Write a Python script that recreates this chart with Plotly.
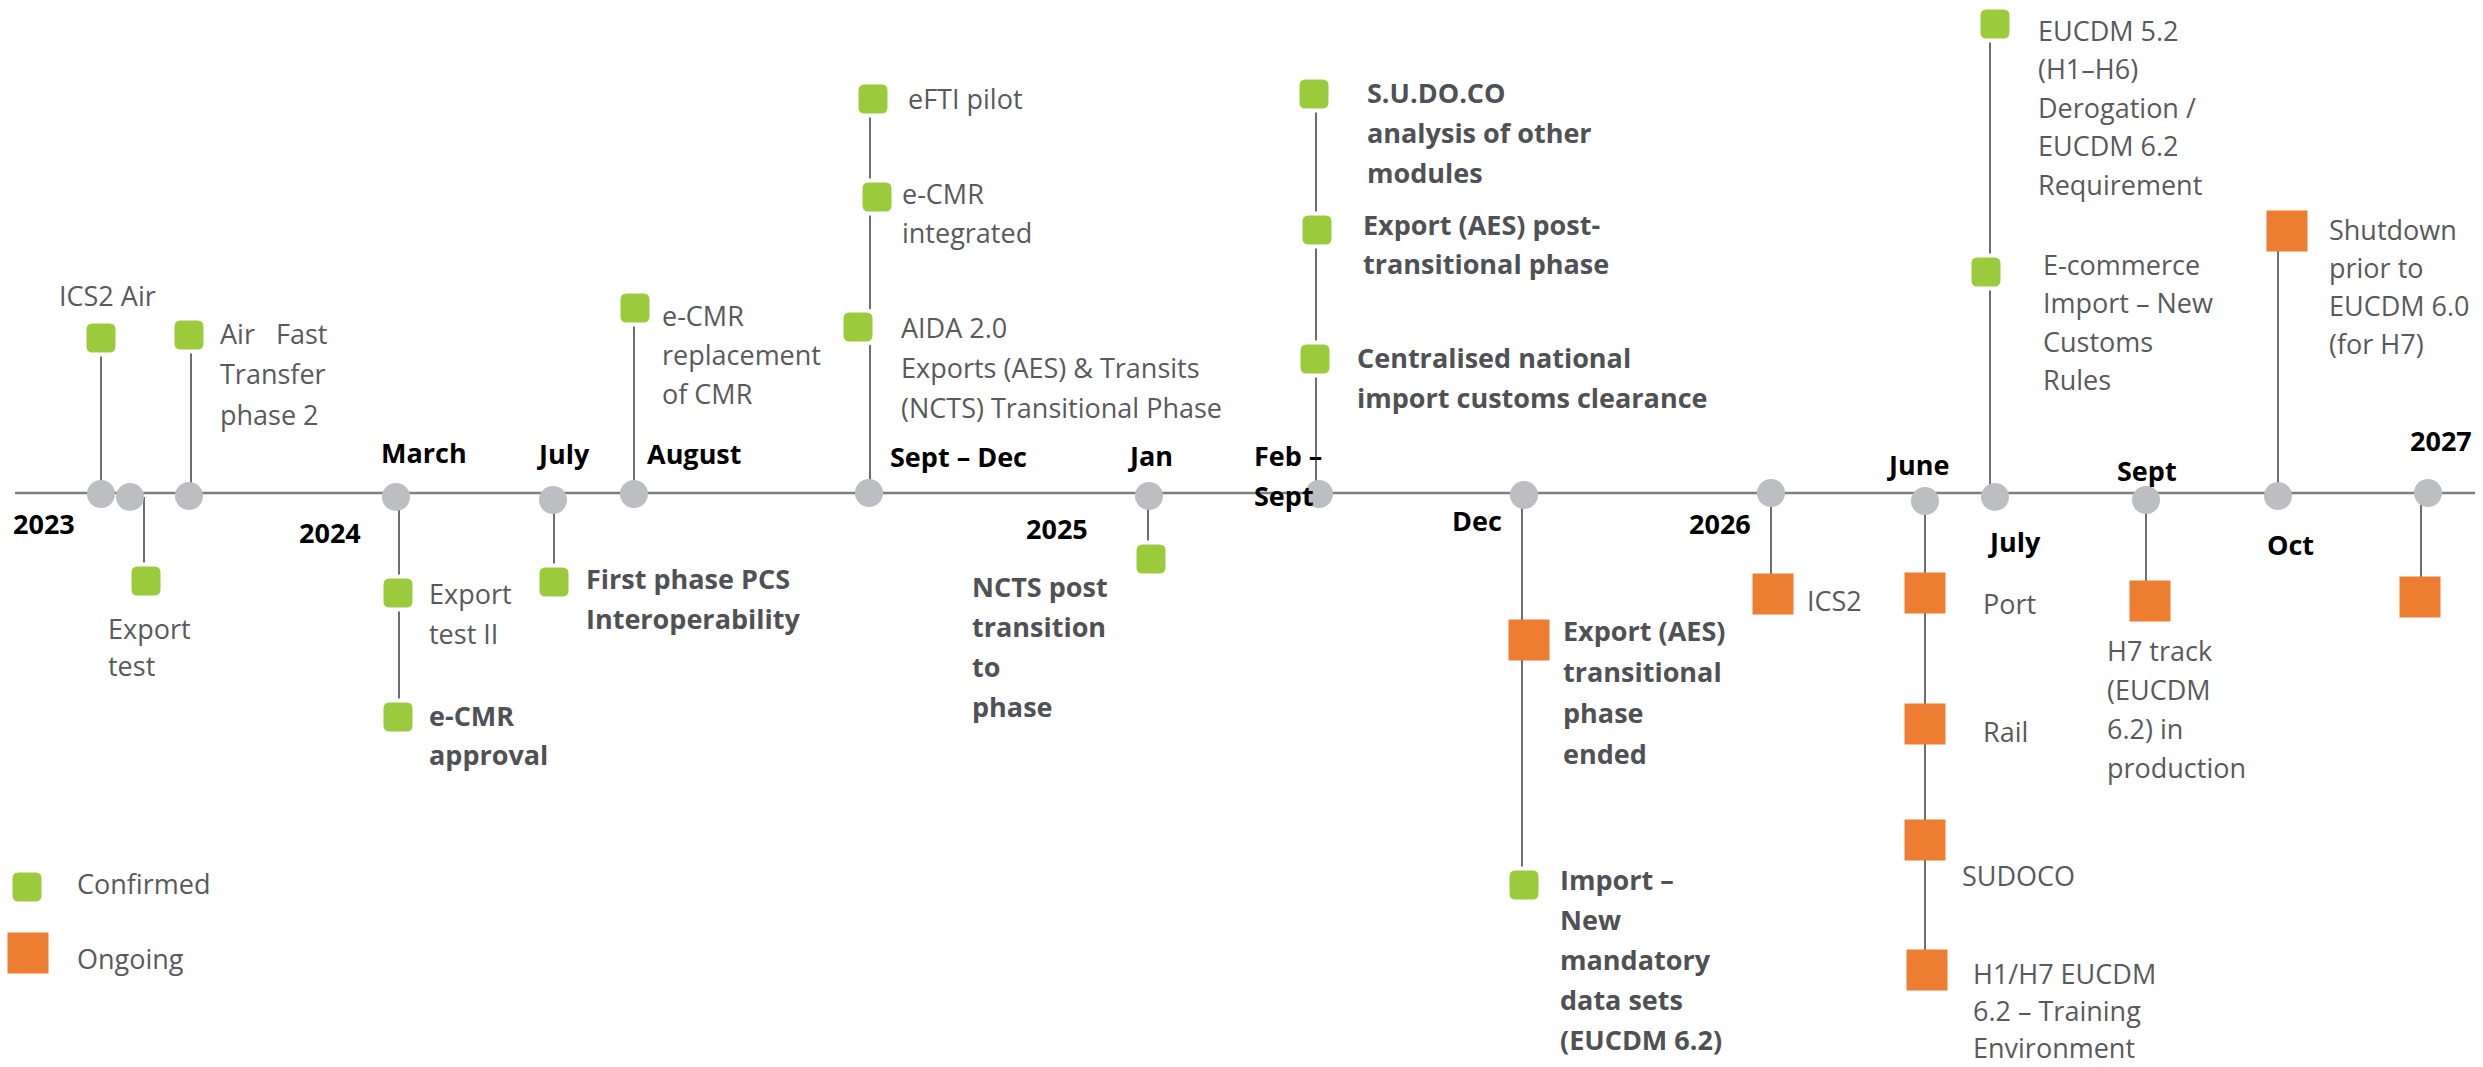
import plotly.graph_objects as go

# ---------------- data ----------------
# timeline nodes (period markers on the axis)
node_x = [101, 130, 189, 396, 553, 634, 869, 1149, 1319, 1524, 1771, 1925, 1995, 2146, 2278, 2428]
node_y = [494, 497, 496, 497, 500, 494, 493, 496, 494, 495, 493, 501, 497, 500, 496, 493]

# period / year labels on the axis
period_labels = ["2023", "March", "2024", "July", "August", "Sept – Dec", "Jan", "2025",
                 "Feb –\nSept", "Dec", "2026", "June", "July", "Sept", "Oct", "2027"]
period_x = [44, 424, 330, 563, 694, 958, 1150, 1057, 1253, 1477, 1720, 1918, 2014, 2147, 2290, 2441]
period_y = [523, 452, 532, 453, 453, 456, 455, 528, 455, 520, 523, 464, 541, 470, 544, 440]
period_anchor = ["center"] * 8 + ["left"] + ["center"] * 7

# events: status, label text
event_status = ["Confirmed", "Confirmed", "Confirmed", "Confirmed", "Confirmed", "Confirmed",
                "Confirmed", "Confirmed", "Confirmed", "Confirmed", "Confirmed", "Confirmed",
                "Confirmed", "Confirmed", "Ongoing", "Confirmed", "Ongoing", "Ongoing",
                "Ongoing", "Ongoing", "Ongoing", "Confirmed", "Confirmed", "Ongoing",
                "Ongoing", "Ongoing"]
event_labels = [
    "ICS2 Air",
    "Export\ntest",
    "Air   Fast\nTransfer\nphase 2",
    "Export\ntest II",
    "e-CMR\napproval",
    "First phase PCS\nInteroperability",
    "e-CMR\nreplacement\nof CMR",
    "eFTI pilot",
    "e-CMR\nintegrated",
    "AIDA 2.0\nExports (AES) & Transits\n(NCTS) Transitional Phase",
    "NCTS post\ntransition\nto\nphase",
    "S.U.DO.CO\nanalysis of other\nmodules",
    "Export (AES) post-\ntransitional phase",
    "Centralised national\nimport customs clearance",
    "Export (AES)\ntransitional\nphase\nended",
    "Import –\nNew\nmandatory\ndata sets\n(EUCDM 6.2)",
    "ICS2",
    "Port",
    "Rail",
    "SUDOCO",
    "H1/H7 EUCDM\n6.2 – Training\nEnvironment",
    "E-commerce\nImport – New\nCustoms\nRules",
    "EUCDM 5.2\n(H1–H6)\nDerogation /\nEUCDM 6.2\nRequirement",
    "H7 track\n(EUCDM\n6.2) in\nproduction",
    "Shutdown\nprior to\nEUCDM 6.0\n(for H7)",
    "",
]
event_bold = [False, False, False, False, True, True, False, False, False, False, True, True,
              True, True, True, True, False, False, False, False, False, False, False, False,
              False, False]

legend_labels = ["Confirmed", "Ongoing"]

# ---------------- layout (positions / styles) ----------------
ev_mx = [101, 146, 189, 398, 398, 554, 635, 873, 877, 858, 1151, 1314, 1317, 1315, 1529, 1524,
         1773, 1925, 1925, 1925, 1927, 1986, 1995, 2150, 2287, 2420]
ev_my = [338, 581, 335, 593, 717, 582, 308, 99, 197, 327, 559, 94, 230, 359, 640, 885,
         594, 593, 724, 840, 970, 272, 24, 601, 231, 597]
ev_lx = [107, 107, 219, 428, 428, 585, 661, 907, 901, 900, 971, 1366, 1362, 1356, 1562, 1559,
         1806, 1982, 1982, 1961, 1972, 2042, 2037, 2106, 2328, 0]
ev_ly = [295, 628, 333, 593, 715, 578, 315, 98, 193, 327, 586, 92, 224, 357, 630, 879,
         600, 603, 731, 875, 973, 264, 30, 650, 229, 0]
ev_sp = [40, 37, 40.5, 40, 39, 40, 39, 40, 39, 40, 40, 40, 39, 40, 41, 40,
         40, 40, 40, 40, 37, 38.5, 38.5, 39, 38, 40]
ev_anchor = ["center"] + ["left"] * 25

stem_x = [101, 144, 191, 399, 554, 634, 870, 1148, 1316, 1522, 1771, 1925, 1990, 2146, 2278, 2421]
stem_end = [338, 581, 335, 717, 582, 308, 99, 559, 94, 885, 594, 970, 24, 601, 231, 597]

GREEN = "#9BCB3C"
ORANGE = "#ED7D31"
NODE_GRAY = "#BDBEC2"
LINE_GRAY = "#7F7F7F"
TEXT_GRAY = "#595A5C"
BOLD_GRAY = "#505154"
FONT = "Open Sans"
FS = 27

W, H = 2483, 1067

fig = go.Figure()

# main timeline
fig.add_trace(go.Scatter(x=[15, 2475], y=[493, 493], mode="lines",
                         line=dict(color=LINE_GRAY, width=2.6), hoverinfo="skip"))

# stems
sx, sy = [], []
for x, y0, y1 in zip(stem_x, node_y, stem_end):
    sx += [x, x, None]
    sy += [y0, y1, None]
fig.add_trace(go.Scatter(x=sx, y=sy, mode="lines",
                         line=dict(color="#6E6E6E", width=2), hoverinfo="skip"))

# nodes
fig.add_trace(go.Scatter(x=node_x, y=node_y, mode="markers",
                         marker=dict(size=28, color=NODE_GRAY, line=dict(width=0)),
                         hoverinfo="skip"))

# ongoing squares
ox = [x for x, s in zip(ev_mx, event_status) if s == "Ongoing"]
oy = [y for y, s in zip(ev_my, event_status) if s == "Ongoing"]
fig.add_trace(go.Scatter(x=ox, y=oy, mode="markers",
                         marker=dict(symbol="square", size=41, color=ORANGE,
                                     line=dict(width=0)),
                         hoverinfo="skip"))


def rounded_square(cx, cy, s, r):
    h = s / 2
    x0, x1, y0, y1 = cx - h, cx + h, cy - h, cy + h
    return (f"M {x0 + r},{y0} L {x1 - r},{y0} Q {x1},{y0} {x1},{y0 + r} "
            f"L {x1},{y1 - r} Q {x1},{y1} {x1 - r},{y1} L {x0 + r},{y1} "
            f"Q {x0},{y1} {x0},{y1 - r} L {x0},{y0 + r} Q {x0},{y0} {x0 + r},{y0} Z")


shapes = []
for x, y, s in zip(ev_mx, ev_my, event_status):
    if s == "Confirmed":
        shapes.append(dict(type="path", path=rounded_square(x, y, 33, 8), xref="x", yref="y",
                           fillcolor=GREEN, line=dict(color="white", width=4), layer="above"))

# legend (manual)
shapes.append(dict(type="path", path=rounded_square(27, 887, 33, 8), xref="x", yref="y",
                   fillcolor=GREEN, line=dict(color="white", width=4), layer="above"))
fig.add_trace(go.Scatter(x=[28], y=[953], mode="markers",
                         marker=dict(symbol="square", size=41, color=ORANGE, line=dict(width=0)),
                         hoverinfo="skip"))

annotations = []


def add_text(text, x, y, sp, anchor, color, bold):
    for i, line in enumerate(text.split("\n")):
        annotations.append(dict(
            x=x, y=y + i * sp, xref="x", yref="y", text=line, showarrow=False,
            xanchor=anchor, yanchor="middle", borderpad=0,
            font=dict(family=FONT, size=FS, color=color,
                      weight="bold" if bold else "normal")))


for lab, x, y, a in zip(period_labels, period_x, period_y, period_anchor):
    add_text(lab, x, y, 40, a, "#000000", True)

for lab, x, y, sp, a, b in zip(event_labels, ev_lx, ev_ly, ev_sp, ev_anchor, event_bold):
    if lab:
        add_text(lab, x, y, sp, a, BOLD_GRAY if b else TEXT_GRAY, b)

add_text(legend_labels[0], 76, 883, 40, "left", TEXT_GRAY, False)
add_text(legend_labels[1], 76, 958, 40, "left", TEXT_GRAY, False)

fig.update_layout(
    width=W, height=H,
    margin=dict(l=0, r=0, t=0, b=0),
    paper_bgcolor="white", plot_bgcolor="white",
    showlegend=False,
    shapes=shapes, annotations=annotations,
    xaxis=dict(range=[0, W], visible=False, fixedrange=True),
    yaxis=dict(range=[H, 0], visible=False, fixedrange=True),
)

fig.write_html("out.html",
               config={"displayModeBar": False},
               post_script="document.body.style.margin='0';document.body.style.overflow='hidden';")
